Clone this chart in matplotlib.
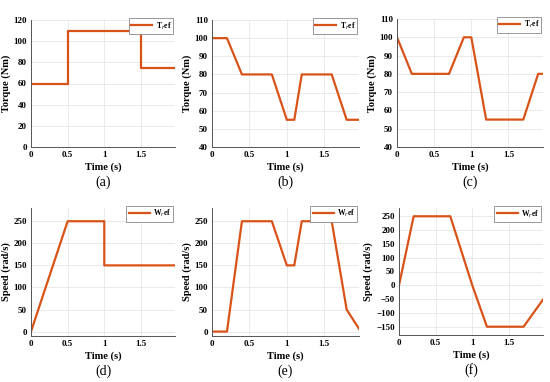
import numpy as np
import matplotlib
matplotlib.use("Agg")
from matplotlib import pyplot as plt

# torque references (Nm)
t_a = [0, 0.5, 0.5, 1.5, 1.5, 2.0]
tq_a = [60, 60, 110, 110, 75, 75]
t_b = [0, 0.2, 0.4, 0.8, 1.0, 1.1, 1.2, 1.6, 1.8, 2.0]
tq_b = [100, 100, 80, 80, 55, 55, 80, 80, 55, 55]
t_c = [0, 0.2, 0.7, 0.9, 1.0, 1.2, 1.7, 1.9, 2.0]
tq_c = [100, 80, 80, 100, 100, 55, 55, 80, 80]

# speed references (rad/s)
t_d = [0, 0.5, 1.0, 1.0, 2.0]
w_d = [0, 250, 250, 150, 150]
t_e = [0, 0.2, 0.4, 0.8, 1.0, 1.1, 1.2, 1.6, 1.8, 1.97]
w_e = [0, 0, 250, 250, 150, 150, 250, 250, 50, 5]
t_f = [0, 0.2, 0.7, 1.0, 1.2, 1.7, 1.97]
w_f = [0, 250, 250, 0, -150, -150, -50]

panels = [
    # x, y, ylabel, legend, ylim, yticks, rect(px: l, r, top, bottom), tag
    (t_a, tq_a, "Torque (Nm)", "T$_r$ef", (0, 120), np.arange(0, 121, 20), (31, 175, 20, 147), "(a)"),
    (t_b, tq_b, "Torque (Nm)", "T$_r$ef", (40, 110), np.arange(40, 111, 10), (212, 359, 20, 147), "(b)"),
    (t_c, tq_c, "Torque (Nm)", "T$_r$ef", (40, 110), np.arange(40, 111, 10), (397, 543, 19, 147), "(c)"),
    (t_d, w_d, "Speed (rad/s)", "W$_r$ef", (-10, 280), np.arange(0, 251, 50), (31, 175, 208, 336), "(d)"),
    (t_e, w_e, "Speed (rad/s)", "W$_r$ef", (-10, 280), np.arange(0, 251, 50), (212, 359, 208, 336), "(e)"),
    (t_f, w_f, "Speed (rad/s)", "W$_r$ef", (-180, 280), np.arange(-150, 251, 50), (399, 543, 208, 335), "(f)"),
]

W, H = 550, 382
fig = plt.figure(figsize=(5.5, 3.82), dpi=100)
serif = ["Liberation Serif", "DejaVu Serif"]
col = "#D95319"

for x, y, ylab, leg, ylim, yt, (l, r, top, bot), tag in panels:
    ax = fig.add_axes([l / W, 1 - bot / H, (r - l) / W, (bot - top) / H])
    ax.plot(x, y, color=col, lw=1.6, label=leg)
    ax.set_xlim(0, 1.965)
    ax.set_ylim(*ylim)
    ax.set_xticks([0, 0.5, 1, 1.5])
    ax.set_xticklabels(["0", "0.5", "1", "1.5"])
    ax.set_yticks(yt)
    ax.grid(True, color="#e6e6e6", lw=0.6)
    ax.set_axisbelow(True)
    for s in ["top", "right"]:
        ax.spines[s].set_visible(False)
    for s in ["left", "bottom"]:
        ax.spines[s].set_color("#555555")
        ax.spines[s].set_linewidth(0.7)
    ax.tick_params(length=0, pad=3, labelsize=6.5)
    for lb in ax.get_xticklabels() + ax.get_yticklabels():
        lb.set_family(serif)
        lb.set_fontweight("bold")
    ax.set_xlabel("Time (s)", fontsize=7.5, fontweight="bold", family=serif, labelpad=2)
    ax.set_ylabel(ylab, fontsize=7.5, fontweight="bold", family=serif, labelpad=2)
    lg = ax.legend(loc="upper right", bbox_to_anchor=(1.0, 1.03), fancybox=False,
                   framealpha=1, edgecolor="#888888", handlelength=2.8,
                   handletextpad=0.4, borderpad=0.3, borderaxespad=0.2,
                   prop={"family": serif, "weight": "bold", "size": 5.5})
    lg.get_frame().set_linewidth(0.6)
    fig.text((l + r) / 2 / W, 1 - (bot + 35) / H, tag, ha="center", va="center",
             fontsize=10, family=serif)

fig.savefig("out.png", dpi=100)
